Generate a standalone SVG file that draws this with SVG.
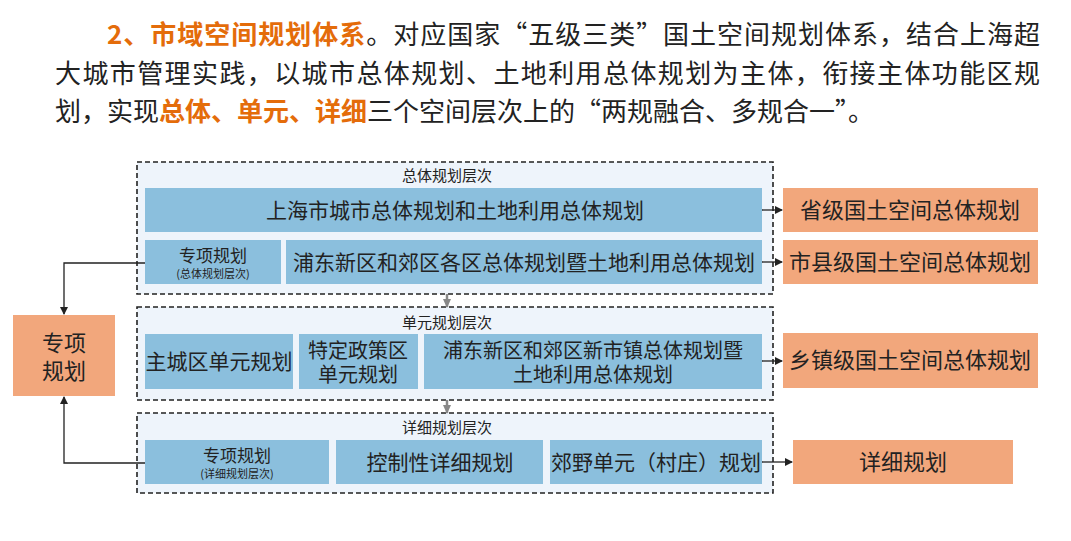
<svg xmlns="http://www.w3.org/2000/svg" width="1071" height="541" viewBox="0 0 1071 541">
<defs>
<style>
text{font-family:"Noto Sans CJK SC","Liberation Sans",sans-serif;fill:#222}
.h{font-size:26px}
.o{fill:#e46c0a;font-weight:bold}
.layer{fill:#eef4fb;stroke:#222;stroke-width:1.6;stroke-dasharray:5,3}
.b{fill:#8bbfdd}
.r{fill:#f2a77c}
.t{font-size:21px;text-anchor:middle}
.t2{font-size:20px;text-anchor:middle}
.ot{font-size:22px;text-anchor:middle}
.s{font-size:11px;text-anchor:middle}
.lb{font-size:15px;text-anchor:middle}
.c{fill:none;stroke:#222;stroke-width:1.3}
.g{fill:none;stroke:#888;stroke-width:2.5}
</style>
<marker id="a" markerWidth="8" markerHeight="8" refX="7" refY="4" orient="auto" markerUnits="userSpaceOnUse"><path d="M0,0 L8,4 L0,8z" fill="#222"/></marker>
<marker id="ga" markerWidth="10" markerHeight="8" refX="8" refY="4" orient="auto" markerUnits="userSpaceOnUse"><path d="M0,0 L9,4 L0,8z" fill="#888"/></marker>
</defs>
<rect width="1071" height="541" fill="#fff"/>
<text class="h" x="107" y="44" textLength="933"><tspan class="o">2、市域空间规划体系</tspan>。对应国家“五级三类”国土空间规划体系，结合上海超</text>
<text class="h" x="55" y="83" textLength="985">大城市管理实践，以城市总体规划、土地利用总体规划为主体，衔接主体功能区规</text>
<text class="h" x="55" y="121">划，实现<tspan class="o">总体、单元、详细</tspan>三个空间层次上的“两规融合、多规合一”。</text>

<g id="layer1"><rect class="layer" x="137" y="162" width="636" height="132"/><text class="lb" x="447" y="181">总体规划层次</text></g>
<g id="layer2"><rect class="layer" x="137" y="307" width="636" height="93"/><text class="lb" x="447" y="328">单元规划层次</text></g>
<g id="layer3"><rect class="layer" x="137" y="413" width="636" height="80"/><text class="lb" x="447" y="433">详细规划层次</text></g>

<g id="n1"><rect class="b" x="145" y="188" width="617" height="44"/><text class="t" x="455" y="218">上海市城市总体规划和土地利用总体规划</text></g>
<g id="n2"><rect class="b" x="145" y="240" width="136" height="44"/><text class="t" x="213" y="262" style="font-size:17px">专项规划</text><text class="s" x="213" y="278">(总体规划层次)</text></g>
<g id="n3"><rect class="b" x="286" y="240" width="476" height="44"/><text class="t" x="524" y="270">浦东新区和郊区各区总体规划暨土地利用总体规划</text></g>
<g id="n4"><rect class="b" x="145" y="334" width="148" height="55"/><text class="t" x="219" y="369">主城区单元规划</text></g>
<g id="n5"><rect class="b" x="299" y="334" width="119" height="55"/><text class="t2" x="358" y="358">特定政策区</text><text class="t2" x="358" y="382">单元规划</text></g>
<g id="n6"><rect class="b" x="424" y="334" width="338" height="55"/><text class="t2" x="593" y="358">浦东新区和郊区新市镇总体规划暨</text><text class="t2" x="593" y="382">土地利用总体规划</text></g>
<g id="n7"><rect class="b" x="145" y="440" width="184" height="44"/><text class="t" x="237" y="462" style="font-size:17px">专项规划</text><text class="s" x="237" y="478">(详细规划层次)</text></g>
<g id="n8"><rect class="b" x="336" y="440" width="207" height="44"/><text class="t" x="440" y="470">控制性详细规划</text></g>
<g id="n9"><rect class="b" x="550" y="440" width="212" height="44"/><text class="t" x="656" y="470">郊野单元（村庄）规划</text></g>

<g id="o0"><rect class="r" x="13" y="315" width="102" height="81"/><text class="ot" x="64" y="351">专项</text><text class="ot" x="64" y="379">规划</text></g>
<g id="o1"><rect class="r" x="783" y="188" width="255" height="44"/><text class="ot" x="910" y="218">省级国土空间总体规划</text></g>
<g id="o2"><rect class="r" x="783" y="240" width="255" height="44"/><text class="ot" x="910" y="270">市县级国土空间总体规划</text></g>
<g id="o3"><rect class="r" x="783" y="333" width="255" height="55"/><text class="ot" x="910" y="368">乡镇级国土空间总体规划</text></g>
<g id="o4"><rect class="r" x="793" y="440" width="220" height="44"/><text class="ot" x="903" y="470">详细规划</text></g>

<g id="connectors">
<path class="c" d="M762,210 H782" marker-end="url(#a)"/>
<path class="c" d="M762,262 H782" marker-end="url(#a)"/>
<path class="c" d="M762,361 H782" marker-end="url(#a)"/>
<path class="c" d="M762,462 H792" marker-end="url(#a)"/>
<path class="c" d="M145,263 H64 V314" marker-end="url(#a)"/>
<path class="c" d="M145,463 H64 V397" marker-end="url(#a)"/>
<path class="g" d="M447,294 V307" marker-end="url(#ga)"/>
<path class="g" d="M447,400 V413" marker-end="url(#ga)"/>
</g>
</svg>
